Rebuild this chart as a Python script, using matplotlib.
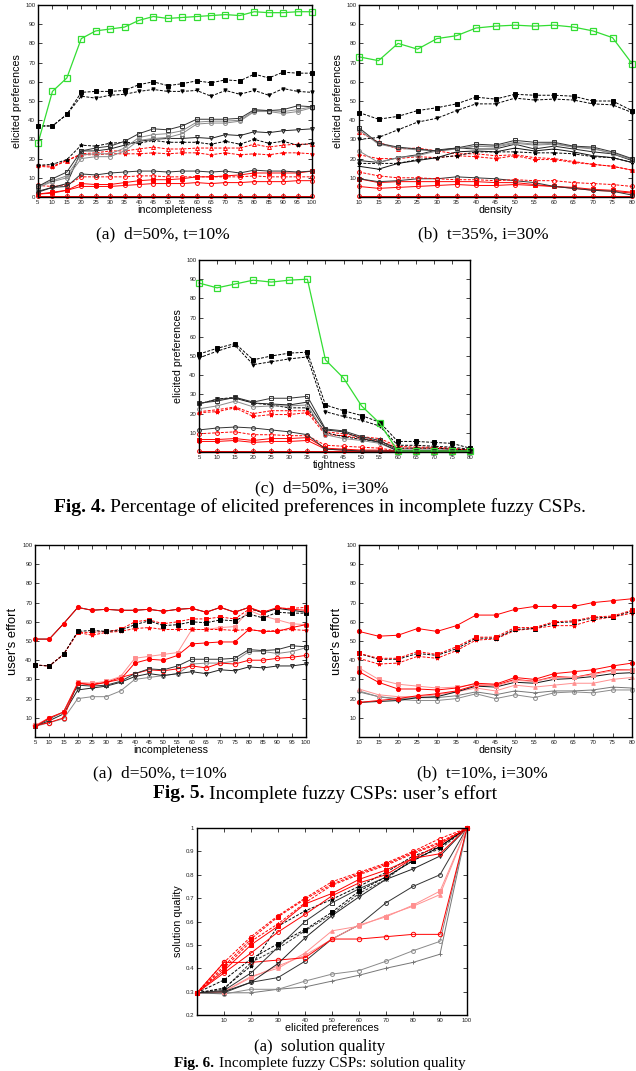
import matplotlib
matplotlib.use("Agg")
import matplotlib.pyplot as plt

plt.rcParams['font.family'] = ['Liberation Sans', 'DejaVu Sans']

# ---------------------------------------------------------------------------
# data
# ---------------------------------------------------------------------------

# Fig. 4 (a) d=50%, t=10% -- x = incompleteness
incompl = [5, 10, 15, 20, 25, 30, 35, 40, 45, 50, 55, 60, 65, 70, 75, 80, 85, 90, 95, 100]
f4a_green = [28, 55, 62, 82.5, 86.5, 87.5, 88.5, 92, 94, 93, 93.5, 94, 94.5, 95, 94.5, 96.5, 96, 96, 96.5, 96.5]
f4a_ksq = [37, 37, 43, 54.5, 55, 55, 55.5, 58.5, 60, 58, 59, 60.5, 59.5, 61, 60.5, 64, 62, 65, 64.5, 64.5]
f4a_ktri = [37, 37, 43, 52.5, 51.5, 53, 53.5, 55, 56, 55, 55, 55.5, 52.5, 55.5, 53.5, 55.5, 53, 56.5, 55, 54.5]
f4a_kosq = [5.5, 9.5, 13, 24, 25.5, 26.5, 29, 33, 35.5, 35, 37, 40.5, 40.5, 40.5, 41, 45.5, 45, 45.5, 47.5, 47]
f4a_gcirc = [5, 8, 10, 20, 21, 21, 24, 29.5, 30.5, 31, 33, 38, 38.5, 38.5, 39.5, 44.5, 44.5, 43.5, 44.5, 46.5]
f4a_gcirc2 = [5.5, 8.5, 11, 22, 22.5, 22.5, 25.5, 31, 32.5, 33, 34.5, 39, 39.5, 39.5, 40, 45, 45, 44.5, 45.5, 47]
f4a_kotri = [3, 5, 7, 24, 24, 25, 27, 29, 30, 30.5, 30.5, 31, 30.5, 32.5, 32, 34, 33.5, 34.5, 35, 35.5]
f4a_kstar = [16.5, 17, 19.5, 27, 26.5, 28, 28.5, 28, 29.5, 28.5, 28.5, 28.5, 27.5, 29, 27.5, 30, 28, 29, 27, 28]
f4a_rtri = [16.5, 16, 19, 22.5, 23, 24, 24, 25, 26, 25, 25, 25.5, 25.5, 25.5, 25.5, 27.5, 26, 27, 27.5, 27.5]
f4a_rstar = [16, 15.5, 19, 22, 22, 22.5, 22.5, 22.5, 23, 22.5, 23, 23, 22, 23, 22, 22.5, 22, 23, 23, 22.5]
f4a_kcirc = [2.5, 5, 5.5, 12, 11.5, 12.5, 13, 13.5, 13.5, 13, 13.5, 13.5, 13, 13.5, 12.5, 14, 13.5, 13.5, 13, 13.5]
f4a_rocirc = [6, 5.5, 6, 10.5, 10.5, 10.5, 10.5, 11, 11, 10.5, 10.5, 10.5, 10.5, 10.5, 10.5, 11, 10.5, 10.5, 10.5, 10.5]
f4a_rsq = [1.5, 2.5, 3.5, 7, 6.5, 6.5, 7.5, 8.5, 9, 9, 9.5, 10.5, 10.5, 11, 11.5, 12.5, 12.5, 12.5, 12.5, 13.5]
f4a_rplus = [1.5, 2, 3.5, 5.5, 5.5, 5.5, 6, 6.5, 7, 7, 7, 7.5, 7, 7.5, 7.5, 8, 8, 8, 8.5, 8.5]
f4a_rzero = [0.5] * 20

# Fig. 4 (b) t=35%, i=30% -- x = density
density = [10, 15, 20, 25, 30, 35, 40, 45, 50, 55, 60, 65, 70, 75, 80]
f4b_green = [73, 71, 80, 77, 82.5, 84, 88, 89, 89.5, 89, 89.5, 88.5, 86.5, 83, 69.5]
f4b_ksq = [44, 40.5, 42, 45, 46.5, 48.5, 52, 51, 53.5, 53, 53, 52.5, 50, 50, 45]
f4b_ktri = [30, 31, 35, 39, 41, 45, 48.5, 48.5, 51.5, 50.5, 51, 50.5, 48.5, 48, 44]
f4b_kosq = [36, 28, 26, 25, 24, 25.5, 27.5, 27, 29.5, 28.5, 28.5, 26.5, 26, 23.5, 20]
f4b_gcirc = [24, 18, 20.5, 21.5, 24, 25, 26.5, 26, 28, 27, 27.5, 26, 25, 23, 19.5]
f4b_gcirc2 = [35, 27.5, 25.5, 24.5, 24, 25, 26.5, 26.5, 28.5, 27.5, 28, 26, 25.5, 22.5, 19.5]
f4b_kotri = [19, 18, 20.5, 22, 24.5, 25.5, 25, 25, 27.5, 25, 26.5, 25, 23.5, 22.5, 19]
f4b_kline = [16, 14.5, 17.5, 19, 20.5, 23.5, 24, 23.5, 25.5, 24, 25, 23.5, 21.5, 20.5, 18]
f4b_kstar = [17.5, 17.5, 17.5, 19.5, 20.5, 21.5, 23.5, 23.5, 23.5, 23, 23, 22.5, 21, 20.5, 18]
f4b_rtri = [34, 28.5, 25, 25.5, 24, 22.5, 22.5, 21.5, 22, 20.5, 20, 18.5, 17, 16, 14]
f4b_rstar = [22, 20, 20, 21, 20.5, 21.5, 21, 20, 21.5, 19.5, 19.5, 18, 17, 16, 14]
f4b_rocirc = [13, 11, 10, 10, 9.5, 9, 9, 8.5, 9, 8.5, 8.5, 7.5, 7, 6.5, 5.5]
f4b_kcirc = [9.5, 8, 8.5, 9.5, 9.5, 10.5, 10, 9.5, 8.5, 7.5, 5.5, 4.5, 3.5, 3, 1]
f4b_rsq = [9.5, 7.5, 8, 8, 8, 8, 8, 7.5, 7.5, 6.5, 5.5, 5, 4, 3.5, 2.5]
f4b_rplus = [5.5, 4.5, 5, 5.5, 6, 6.5, 6, 6, 6.5, 6, 5.5, 4.5, 3.5, 3, 2]
f4b_rzero = [0.5] * 15

# Fig. 4 (c) d=50%, i=30% -- x = tightness
tightness = [5, 10, 15, 20, 25, 30, 35, 40, 45, 50, 55, 60, 65, 70, 75, 80]
f4c_green = [88, 85.5, 87.5, 89.5, 88.5, 89.5, 90, 48, 38.5, 24, 15, 0.5, 0.5, 0.5, 0.5, 0.5]
f4c_ksq = [51, 54, 56.5, 48, 50, 51.5, 52, 24.5, 21.5, 19, 15.5, 5.5, 5.5, 5, 4.5, 2]
f4c_ktri = [49, 52.5, 55.5, 45.5, 47, 48.5, 49.5, 21, 18.5, 16.5, 13.5, 3.5, 3.5, 3, 2.5, 1.5]
f4c_kosq = [25.5, 26.5, 28.5, 26, 28, 28, 29, 12, 11, 8, 6, 1, 1, 1, 1, 0.5]
f4c_gcirc = [22.5, 24, 26.5, 23.5, 24, 24, 24.5, 9, 7, 6, 4.5, 0.5, 0.5, 0.5, 0.5, 0.5]
f4c_kotri = [25, 27.5, 28, 25.5, 25, 24.5, 26, 11.5, 10.5, 7, 5, 0.5, 0.5, 0.5, 0.5, 0.5]
f4c_kstar = [25, 27.5, 28.5, 25.5, 24.5, 23, 23, 10, 8, 6.5, 5.5, 2, 2, 2, 1.5, 1]
f4c_rtri = [21, 22, 23.5, 20, 21.5, 21.5, 21.5, 10.5, 9.5, 8, 7, 3, 2.5, 2.5, 2, 1]
f4c_rstar = [20.5, 21, 23, 18.5, 19.5, 19.5, 20.5, 9, 8.5, 7, 6, 2, 2, 2, 1.5, 1]
f4c_kcirc = [11.5, 12.5, 13, 12.5, 11.5, 10.5, 9, 1.5, 1, 0.5, 0.5, 0.5, 0.5, 0.5, 0.5, 0.5]
f4c_rocirc = [9.5, 10, 10.5, 9, 9, 8.5, 8.5, 3.5, 3, 2.5, 2, 0.5, 0.5, 0.5, 0.5, 0.5]
f4c_rsq = [6.5, 6.5, 7, 6, 7, 7, 7.5, 2, 1.5, 1, 1, 0.5, 0.5, 0.5, 0.5, 0.5]
f4c_rplus = [5.5, 5.5, 6, 5, 5.5, 5.5, 6, 1.5, 1, 0.5, 0.5, 0.5, 0.5, 0.5, 0.5, 0.5]
f4c_rzero = [0.5] * 16

# Fig. 5 (a) d=50%, t=10% -- user's effort vs incompleteness
f5a_ktop = [51, 51, 59, 67.5, 66, 66.5, 66, 66, 66.5, 65.5, 66.5, 67, 65, 67.5, 65, 67.5, 64.5, 67, 66, 65]
f5a_rtop = [51, 51, 59, 67.5, 66, 66.5, 66, 66, 66.5, 65.5, 66.5, 67, 65, 67.5, 65, 67.5, 65, 67.5, 66.5, 66]
f5a_ksq = [37.5, 37, 43, 55, 55.5, 55, 55.5, 58.5, 60.5, 58, 58.5, 60, 59.5, 61, 60.5, 64, 62, 65, 64.5, 64.5]
f5a_rstar = [37.5, 37, 43, 54.5, 53, 54.5, 55, 56.5, 57, 56, 56, 56, 56, 56, 55.5, 56, 55, 55.5, 56, 55.5]
f5a_rdash = [37.5, 37, 43, 54.5, 54.5, 55, 56, 60, 61, 59, 60, 61.5, 61.5, 62.5, 61.5, 66.5, 65, 67, 67, 67.5]
f5a_rmid = [5.5, 10, 13, 28, 27, 28.5, 30, 38.5, 40.5, 40, 42.5, 48.5, 49, 49.5, 49.5, 56, 55, 55, 57, 58.5]
f5a_pink = [6, 10, 13, 28.5, 28, 29, 31.5, 41, 42, 43, 44, 56, 56, 57, 57.5, 66, 63, 61, 59, 58.5]
f5a_kosq = [5.5, 9.5, 13, 27, 26.5, 27, 29, 33, 35.5, 35, 37, 40.5, 40.5, 40.5, 41, 45.5, 45, 45.5, 47.5, 47]
f5a_rocirc = [6, 7.5, 10, 28, 27.5, 28.5, 31, 33, 35, 34.5, 35.5, 37, 36, 38.5, 38, 40, 40, 41, 41.5, 42.5]
f5a_kotri = [5.5, 8.5, 12, 24.5, 25.5, 26.5, 28.5, 31.5, 33, 32, 33, 34, 33, 35, 34.5, 36.5, 36, 37, 37, 38]
f5a_gcirc = [5.5, 7.5, 9.5, 20, 21, 21, 24, 30, 31, 32, 33, 38, 38.5, 38.5, 39.5, 44.5, 44.5, 43.5, 44.5, 46.5]

# Fig. 5 (b) t=10%, i=30% -- user's effort vs density
f5b_rtop = [55, 52.5, 53, 56.5, 55, 58, 63.5, 63.5, 66.5, 68, 68, 68, 70, 71, 72]
f5b_rdash1 = [43.5, 41, 41, 44.5, 43, 47, 52, 52, 57, 57, 60, 60.5, 62.5, 63, 66]
f5b_rdash2 = [41, 38, 38.5, 42, 41, 45, 50.5, 51, 55.5, 56.5, 58, 58, 61, 62.5, 64.5]
f5b_ksq = [43.5, 40.5, 40.5, 43.5, 42.5, 46, 51.5, 51.5, 56, 56.5, 59.5, 60, 62, 62.5, 65.5]
f5b_rmid = [34, 28.5, 25, 25, 24.5, 25.5, 28, 27.5, 31, 30, 33, 34, 35, 37, 38.5]
f5b_pink = [36, 30, 27.5, 26.5, 25.5, 26, 27.5, 26.5, 29.5, 29, 31, 31, 32.5, 34.5, 35]
f5b_kline = [18, 18.5, 19, 20.5, 21, 23.5, 26.5, 26, 28.5, 28, 30, 30.5, 31.5, 33, 33.5]
f5b_rlow = [18, 19, 20, 21.5, 22.5, 24, 27, 27, 30, 29, 31.5, 31, 33, 35, 35]
f5b_gcirc = [24, 21, 19.5, 19, 19, 20, 22.5, 20, 22, 20.5, 23, 23.5, 23, 24.5, 24.5]
f5b_gplus = [23.5, 21, 20, 20.5, 20.5, 21.5, 23.5, 22, 24, 23, 24, 24, 24.5, 26, 25.5]
f5b_rtri = [25, 22, 21, 21, 22, 23.5, 25.5, 24, 27, 26, 27, 28, 28, 30, 31]

# Fig. 6 (a) solution quality vs elicited preferences
elicited = [0, 10, 20, 30, 40, 50, 60, 70, 80, 90, 100]
f6_rd1 = [0.295, 0.425, 0.535, 0.625, 0.70, 0.77, 0.81, 0.85, 0.90, 0.955, 1.0]
f6_rd2 = [0.295, 0.41, 0.525, 0.62, 0.695, 0.76, 0.805, 0.845, 0.895, 0.94, 1.0]
f6_rd3 = [0.295, 0.40, 0.515, 0.59, 0.68, 0.755, 0.80, 0.84, 0.89, 0.935, 1.0]
f6_rs1 = [0.295, 0.39, 0.50, 0.58, 0.675, 0.72, 0.78, 0.82, 0.87, 0.93, 1.0]
f6_rs2 = [0.295, 0.38, 0.465, 0.555, 0.63, 0.71, 0.765, 0.80, 0.87, 0.89, 1.0]
f6_kstar = [0.295, 0.315, 0.41, 0.58, 0.645, 0.695, 0.75, 0.81, 0.88, 0.92, 1.0]
f6_ksq = [0.295, 0.35, 0.44, 0.505, 0.565, 0.64, 0.73, 0.79, 0.86, 0.92, 1.0]
f6_kosq = [0.295, 0.305, 0.38, 0.49, 0.60, 0.68, 0.74, 0.79, 0.86, 0.92, 1.0]
f6_kdash = [0.295, 0.31, 0.425, 0.485, 0.56, 0.63, 0.72, 0.78, 0.87, 0.91, 1.0]
f6_kotri = [0.295, 0.30, 0.34, 0.42, 0.53, 0.625, 0.705, 0.78, 0.825, 0.88, 1.0]
f6_rocirc = [0.295, 0.425, 0.425, 0.435, 0.445, 0.525, 0.525, 0.535, 0.545, 0.545, 1.0]
f6_ptri = [0.295, 0.30, 0.365, 0.40, 0.465, 0.56, 0.58, 0.625, 0.665, 0.715, 1.0]
f6_psq = [0.295, 0.30, 0.36, 0.41, 0.455, 0.525, 0.585, 0.62, 0.67, 0.73, 1.0]
f6_kcirc = [0.295, 0.295, 0.34, 0.36, 0.43, 0.525, 0.585, 0.68, 0.75, 0.80, 1.0]
f6_gcirc = [0.295, 0.29, 0.31, 0.31, 0.345, 0.375, 0.39, 0.43, 0.475, 0.515, 1.0]
f6_gplus = [0.295, 0.295, 0.295, 0.31, 0.32, 0.345, 0.37, 0.40, 0.425, 0.46, 1.0]

# ---------------------------------------------------------------------------
# gnuplot-like line styles
# ---------------------------------------------------------------------------
DASH = (0, (3, 1.5))
RED = '#ff0000'
PINK = '#ff9090'
GREEN = '#33dd33'
STY = {
    'green': dict(color=GREEN, ls='-', marker='s', mfc='none', ms=4.0, mew=0.9, lw=0.9),
    'ksq': dict(color='black', ls=DASH, marker='s', ms=3.0),
    'ktri': dict(color='black', ls=DASH, marker='v', ms=2.4),
    'kosq': dict(color='#333333', ls='-', marker='s', mfc='none', ms=3.1),
    'gcirc': dict(color='#8a8a8a', ls='-', marker='o', mfc='none', ms=2.8),
    'kotri': dict(color='#222222', ls='-', marker='v', mfc='none', ms=2.8),
    'kline': dict(color='#111111', ls='-', marker='+', ms=2.8),
    'kstar': dict(color='black', ls=DASH, marker='*', ms=2.8),
    'kdash': dict(color='#333333', ls=DASH, marker='x', ms=2.3),
    'rtri': dict(color=RED, ls=DASH, marker='^', mfc='none', ms=2.8),
    'rstar': dict(color=RED, ls=DASH, marker='*', ms=2.8),
    'kcirc': dict(color='#333333', ls='-', marker='o', mfc='none', ms=2.8),
    'rocirc': dict(color=RED, ls=DASH, marker='o', mfc='none', ms=2.8),
    'rsq': dict(color=RED, ls='-', marker='s', ms=2.8),
    'rplus': dict(color=RED, ls='-', marker='o', mfc='none', ms=2.8),
    'rzero': dict(color=RED, ls='-', marker='o', mfc='none', ms=2.8),
    'rfill': dict(color=RED, ls='-', marker='o', ms=3.0),
    'rdash': dict(color=RED, ls=DASH, marker='s', ms=2.4),
    'pink': dict(color=PINK, ls='-', marker='s', ms=2.4),
    'ptri': dict(color=PINK, ls='-', marker='^', ms=2.6),
    'rocsol': dict(color=RED, ls='-', marker='o', mfc='none', ms=3.2),
    'gplus': dict(color='#777777', ls='-', marker='+', ms=2.8),
}

W, H = 636, 1071
fig = plt.figure(figsize=(W / 100, H / 100), dpi=100)


def add_ax(l, r, t, b):
    return fig.add_axes([l / W, 1 - b / H, (r - l) / W, (b - t) / H])


def style_ax(ax, xticks, xlim, ylim, yticks, ylabels, xlabel, ylabel, ylsize=7.7):
    ax.set_xlim(*xlim)
    ax.set_ylim(*ylim)
    ax.set_xticks(xticks)
    ax.set_xticklabels([str(v) for v in xticks])
    ax.set_yticks(yticks)
    ax.set_yticklabels(ylabels)
    ax.tick_params(direction='in', top=True, right=True, length=3, width=0.6,
                   labelsize=4.4, pad=2, colors='#222222')
    for s in ax.spines.values():
        s.set_linewidth(1.0)
    ax.set_xlabel(xlabel, fontsize=7.7, labelpad=0.5)
    ax.set_ylabel(ylabel, fontsize=ylsize, labelpad=2)


def draw(ax, x, series):
    for key, y in series:
        st = dict(STY[key])
        st.setdefault('lw', 0.7)
        st.setdefault('mew', 0.7)
        ax.plot(x, y, clip_on=False, **st)


pct_ticks = list(range(0, 101, 10))
pct_labels_0 = [str(v) for v in pct_ticks]
pct_labels = [''] + [str(v) for v in pct_ticks[1:]]

# Fig. 4 (a)
ax = add_ax(38, 312, 5, 197)
draw(ax, incompl, [('rzero', f4a_rzero), ('rplus', f4a_rplus), ('rsq', f4a_rsq),
                   ('rocirc', f4a_rocirc), ('kcirc', f4a_kcirc), ('rstar', f4a_rstar),
                   ('rtri', f4a_rtri), ('kstar', f4a_kstar), ('kotri', f4a_kotri),
                   ('gcirc', f4a_gcirc), ('gcirc', f4a_gcirc2), ('kosq', f4a_kosq),
                   ('ktri', f4a_ktri), ('ksq', f4a_ksq), ('green', f4a_green)])
style_ax(ax, incompl, (5, 100), (0, 100), pct_ticks, pct_labels_0,
         'incompleteness', 'elicited preferences')

# Fig. 4 (b)
ax = add_ax(359, 632, 5, 197)
draw(ax, density, [('rzero', f4b_rzero), ('rplus', f4b_rplus), ('rsq', f4b_rsq),
                   ('kcirc', f4b_kcirc), ('rocirc', f4b_rocirc), ('rstar', f4b_rstar),
                   ('rtri', f4b_rtri), ('kstar', f4b_kstar), ('kline', f4b_kline),
                   ('kotri', f4b_kotri), ('gcirc', f4b_gcirc), ('gcirc', f4b_gcirc2),
                   ('kosq', f4b_kosq), ('ktri', f4b_ktri), ('ksq', f4b_ksq),
                   ('green', f4b_green)])
style_ax(ax, density, (10, 80), (0, 100), pct_ticks, pct_labels,
         'density', 'elicited preferences')

# Fig. 4 (c)
ax = add_ax(199, 470, 260, 452)
draw(ax, tightness, [('rzero', f4c_rzero), ('rplus', f4c_rplus), ('rsq', f4c_rsq),
                     ('rocirc', f4c_rocirc), ('kcirc', f4c_kcirc), ('rstar', f4c_rstar),
                     ('rtri', f4c_rtri), ('kstar', f4c_kstar), ('gcirc', f4c_gcirc),
                     ('kotri', f4c_kotri), ('kosq', f4c_kosq), ('ktri', f4c_ktri),
                     ('ksq', f4c_ksq), ('green', f4c_green)])
style_ax(ax, tightness, (5, 80), (0, 100), pct_ticks, pct_labels,
         'tightness', 'elicited preferences')

# Fig. 5 (a)
ax = add_ax(35, 306, 545, 737)
draw(ax, incompl, [('gcirc', f5a_gcirc), ('kotri', f5a_kotri), ('rocsol', f5a_rocirc),
                   ('kosq', f5a_kosq), ('pink', f5a_pink), ('rfill', f5a_rmid),
                   ('rstar', f5a_rstar), ('rdash', f5a_rdash), ('ksq', f5a_ksq),
                   ('kline', f5a_ktop), ('rfill', f5a_rtop)])
style_ax(ax, incompl, (5, 100), (0, 100), pct_ticks, pct_labels,
         'incompleteness', "user's effort", ylsize=9.3)

# Fig. 5 (b)
ax = add_ax(359, 632, 545, 737)
draw(ax, density, [('gplus', f5b_gplus), ('gcirc', f5b_gcirc), ('ptri', f5b_rtri),
                   ('kline', f5b_kline), ('rfill', f5b_rlow), ('pink', f5b_pink),
                   ('rfill', f5b_rmid), ('rstar', f5b_rdash2), ('ksq', f5b_ksq),
                   ('rdash', f5b_rdash1), ('rfill', f5b_rtop)])
style_ax(ax, density, (10, 80), (0, 100), pct_ticks, pct_labels,
         'density', "user's effort", ylsize=9.3)

# Fig. 6 (a)
ax = add_ax(197, 467, 828, 1015)
draw(ax, elicited, [('gplus', f6_gplus), ('gcirc', f6_gcirc), ('kcirc', f6_kcirc),
                    ('pink', f6_psq), ('ptri', f6_ptri), ('rocsol', f6_rocirc),
                    ('kotri', f6_kotri), ('kdash', f6_kdash), ('kosq', f6_kosq),
                    ('ksq', f6_ksq), ('kstar', f6_kstar), ('rplus', f6_rs2),
                    ('rsq', f6_rs1), ('rstar', f6_rd3), ('rdash', f6_rd2),
                    ('rocirc', f6_rd1)])
q_ticks = [0.2, 0.3, 0.4, 0.5, 0.6, 0.7, 0.8, 0.9, 1.0]
style_ax(ax, elicited[1:], (0, 100), (0.2, 1.0), q_ticks,
         ['0.2', '0.3', '0.4', '0.5', '0.6', '0.7', '0.8', '0.9', '1'],
         'elicited preferences', 'solution quality')

# ---------------------------------------------------------------------------
# captions (Times-like serif)
# ---------------------------------------------------------------------------
SERIF = ['Liberation Serif', 'DejaVu Serif']
CAP = 12.5
FIGCAP = 14


def caption(xc, yc, s, size=CAP):
    fig.text(xc / W, 1 - yc / H, s, ha='center', va='center',
             family=SERIF, fontsize=size)


def fig_caption(xc, yc, bold, rest, size=FIGCAP):
    t1 = fig.text(0, 1 - yc / H, bold, ha='left', va='center',
                  family=SERIF, fontsize=size, weight='bold')
    t2 = fig.text(0, 1 - yc / H, rest, ha='left', va='center',
                  family=SERIF, fontsize=size)
    r = fig.canvas.get_renderer()
    w1 = t1.get_window_extent(r).width
    w2 = t2.get_window_extent(r).width
    gap = 5
    x0 = xc - (w1 + gap + w2) / 2
    t1.set_x(x0 / W)
    t2.set_x((x0 + w1 + gap) / W)


caption(163, 234, '(a)  d=50%, t=10%')
caption(483, 234, '(b)  t=35%, i=30%')
caption(322, 488, '(c)  d=50%, i=30%')
fig_caption(320, 507, 'Fig. 4.', 'Percentage of elicited preferences in incomplete fuzzy CSPs.')
caption(160, 773, '(a)  d=50%, t=10%')
caption(482, 773, '(b)  t=10%, i=30%')
fig_caption(325, 794, 'Fig. 5.', 'Incomplete fuzzy CSPs: user\u2019s effort')
caption(320, 1047, '(a)  solution quality', size=12)
fig_caption(320, 1063, 'Fig. 6.', 'Incomplete fuzzy CSPs: solution quality', size=11)

fig.savefig('out.png', dpi=100)
